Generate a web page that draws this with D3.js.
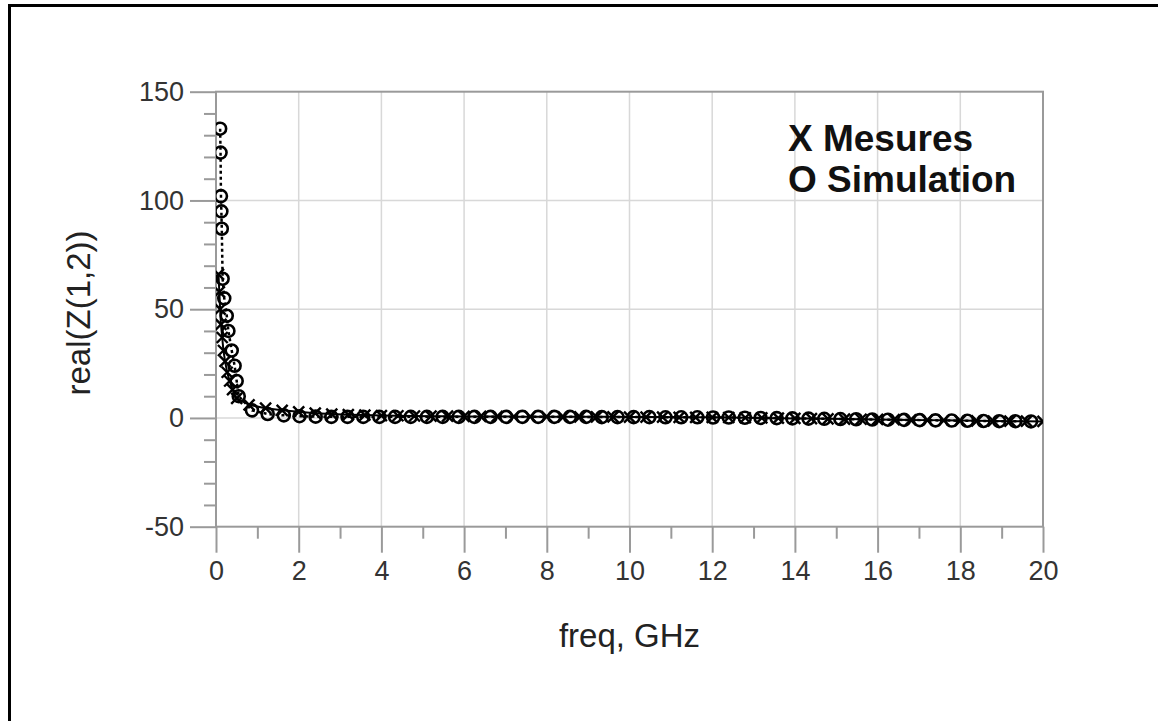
<!DOCTYPE html>
<html>
  <head>
    <meta charset="utf-8">
    <title>real(Z(1,2))</title>
    <style>
      body { margin: 0; background: #fff; }
      text { font-family: "Liberation Sans", Arial, sans-serif; }
    </style>
  </head>
  <body>
    <script src="https://d3js.org/d3.v7.min.js"></script>
    <script>
      // simulated trace (O markers), freq in GHz
      const simFreq = [0.10, 0.11, 0.12, 0.13, 0.14, 0.16, 0.20, 0.26, 0.30, 0.38, 0.45, 0.50, 0.55,
        0.87, 1.25, 1.64, 2.02, 2.41, 2.79, 3.18, 3.56, 3.95, 4.33, 4.71, 5.10, 5.48, 5.87, 6.25, 6.64,
        7.02, 7.41, 7.79, 8.18, 8.56, 8.95, 9.33, 9.71, 10.10, 10.48, 10.87, 11.25, 11.64, 12.02, 12.40,
        12.79, 13.17, 13.56, 13.94, 14.33, 14.71, 15.10, 15.48, 15.87, 16.25, 16.64, 17.02, 17.40, 17.79,
        18.17, 18.56, 18.94, 19.33, 19.71];
      const simValue = [133, 122, 102, 95, 87, 64, 55, 47, 40, 31, 24, 17, 10,
        3.5, 1.8, 1.2, 0.8, 0.6, 0.5, 0.5, 0.5, 0.5, 0.5, 0.5, 0.5, 0.5, 0.5, 0.5, 0.5,
        0.5, 0.5, 0.5, 0.5, 0.5, 0.5, 0.4, 0.4, 0.4, 0.4, 0.3, 0.3, 0.3, 0.2, 0.2,
        0.1, 0.0, -0.1, -0.2, -0.3, -0.4, -0.5, -0.6, -0.7, -0.8, -0.9, -1.0, -1.1, -1.2,
        -1.3, -1.4, -1.5, -1.5, -1.6];

      // measured trace (X markers)
      const measFreq = [0.06, 0.08, 0.10, 0.12, 0.15, 0.18, 0.22, 0.27, 0.33, 0.40, 0.50, 0.80,
        1.20, 1.60, 2.00, 2.40, 2.80, 3.20, 3.60, 4.00, 4.40, 4.80, 5.20, 5.60, 6.00, 6.40, 6.80,
        7.20, 7.60, 8.00, 8.40, 8.80, 9.20, 9.60, 10.00, 10.40, 10.80, 11.20, 11.60, 12.00, 12.40,
        12.80, 13.20, 13.60, 14.00, 14.40, 14.80, 15.20, 15.60, 16.00, 16.40, 16.80, 17.20, 17.60,
        18.00, 18.40, 18.80, 19.20, 19.60, 20.00];
      const measValue = [66, 58, 50, 43, 37, 31, 26, 21, 17, 13, 9, 6,
        4.5, 3.5, 2.8, 2.2, 1.8, 1.5, 1.3, 1.1, 1.0, 0.9, 0.8, 0.8, 0.7, 0.7, 0.7,
        0.6, 0.6, 0.6, 0.5, 0.5, 0.5, 0.5, 0.4, 0.4, 0.4, 0.3, 0.3, 0.3, 0.2,
        0.1, 0.0, -0.1, -0.2, -0.3, -0.4, -0.5, -0.6, -0.7, -0.8, -0.9, -1.0, -1.1,
        -1.2, -1.3, -1.4, -1.5, -1.5, -1.6];

      const xTicks = [0, 2, 4, 6, 8, 10, 12, 14, 16, 18, 20];
      const yTicks = [-50, 0, 50, 100, 150];
      const legendLines = ["X Mesures", "O Simulation"];

      const width = 1158, height = 721;
      const plotLeft = 216, plotRight = 1043, plotTop = 91.7, plotBottom = 526.7;

      const x = d3.scaleLinear().domain([0, 20]).range([plotLeft, plotRight]);
      const y = d3.scaleLinear().domain([-50, 150]).range([plotBottom, plotTop]);

      const svg = d3.select("body").append("svg")
        .attr("width", width)
        .attr("height", height);

      // outer frame (runs off the page on right and bottom)
      svg.append("rect")
        .attr("x", 9.5).attr("y", 5.5)
        .attr("width", 1300).attr("height", 900)
        .attr("fill", "none").attr("stroke", "#000").attr("stroke-width", 3);

      // grid
      const grid = svg.append("g").attr("stroke", "#d8d8d8").attr("stroke-width", 1.5);
      grid.selectAll(".vx").data(xTicks.slice(1, -1)).enter().append("line")
        .attr("x1", d => x(d)).attr("x2", d => x(d))
        .attr("y1", plotTop).attr("y2", plotBottom);
      grid.selectAll(".hy").data(yTicks.slice(1, -1)).enter().append("line")
        .attr("x1", plotLeft).attr("x2", plotRight)
        .attr("y1", d => y(d)).attr("y2", d => y(d));

      // axes: d3 axes with long major ticks, minor ticks separately
      const axisColor = "#9a9a9a";
      const yAxis = svg.append("g")
        .attr("transform", `translate(${plotLeft},0)`)
        .call(d3.axisLeft(y).tickValues(yTicks).tickSize(26).tickPadding(6)
          .tickFormat(d => String(d)));
      const yMinor = svg.append("g")
        .attr("transform", `translate(${plotLeft},0)`)
        .call(d3.axisLeft(y).tickValues(d3.range(-40, 150, 10).filter(v => v % 50 !== 0))
          .tickSize(12).tickFormat(""));
      const xAxis = svg.append("g")
        .attr("transform", `translate(0,${plotBottom})`)
        .call(d3.axisBottom(x).tickValues(xTicks).tickSize(26).tickPadding(8)
          .tickFormat(d => String(d)));
      const xMinor = svg.append("g")
        .attr("transform", `translate(0,${plotBottom})`)
        .call(d3.axisBottom(x).tickValues(d3.range(1, 20, 2)).tickSize(12).tickFormat(""));

      [yAxis, yMinor, xAxis, xMinor].forEach(a => {
        a.select(".domain").remove();
        a.selectAll("line").attr("stroke", axisColor).attr("stroke-width", 2);
      });
      [yAxis, xAxis].forEach(a => {
        a.selectAll("text")
          .attr("font-family", "Liberation Sans, Arial, sans-serif")
          .attr("font-size", 27).attr("fill", "#333");
      });

      // plot frame
      svg.append("rect")
        .attr("x", plotLeft).attr("y", plotTop)
        .attr("width", plotRight - plotLeft).attr("height", plotBottom - plotTop)
        .attr("fill", "none").attr("stroke", axisColor).attr("stroke-width", 2);

      // traces
      svg.append("clipPath").attr("id", "plotClip")
        .append("rect").attr("x", plotLeft).attr("y", plotTop)
        .attr("width", plotRight - plotLeft).attr("height", plotBottom - plotTop);
      const plot = svg.append("g").attr("clip-path", "url(#plotClip)");

      const sim = simFreq.map((f, i) => [f, simValue[i]]);
      const meas = measFreq.map((f, i) => [f, measValue[i]]);
      const line = d3.line().x(d => x(d[0])).y(d => y(d[1]));

      plot.append("path").datum(meas)
        .attr("d", line).attr("fill", "none")
        .attr("stroke", "#000").attr("stroke-width", 2);
      plot.append("path").datum(sim)
        .attr("d", line).attr("fill", "none")
        .attr("stroke", "#000").attr("stroke-width", 2.5)
        .attr("stroke-dasharray", "3,3");

      const xs = 5.5;
      plot.selectAll(".mx").data(meas).enter().append("path")
        .attr("transform", d => `translate(${x(d[0])},${y(d[1])})`)
        .attr("d", `M${-xs},${-xs}L${xs},${xs}M${-xs},${xs}L${xs},${-xs}`)
        .attr("stroke", "#000").attr("stroke-width", 2.4).attr("fill", "none");
      plot.selectAll(".mo").data(sim).enter().append("circle")
        .attr("cx", d => x(d[0])).attr("cy", d => y(d[1]))
        .attr("r", 6)
        .attr("fill", "none").attr("stroke", "#000").attr("stroke-width", 2.6);

      // legend text
      svg.append("g").selectAll("text").data(legendLines).enter().append("text")
        .attr("x", 788).attr("y", (d, i) => 151 + i * 40.5)
        .attr("font-size", 37).attr("font-weight", "bold").attr("fill", "#111")
        .text(d => d);

      // axis titles
      svg.append("text")
        .attr("x", (plotLeft + plotRight) / 2).attr("y", 647)
        .attr("text-anchor", "middle").attr("font-size", 33).attr("fill", "#222")
        .text("freq, GHz");
      svg.append("text")
        .attr("transform", "translate(90,313) rotate(-90)")
        .attr("text-anchor", "middle").attr("font-size", 33).attr("fill", "#222")
        .text("real(Z(1,2))");
    </script>
  </body>
</html>
